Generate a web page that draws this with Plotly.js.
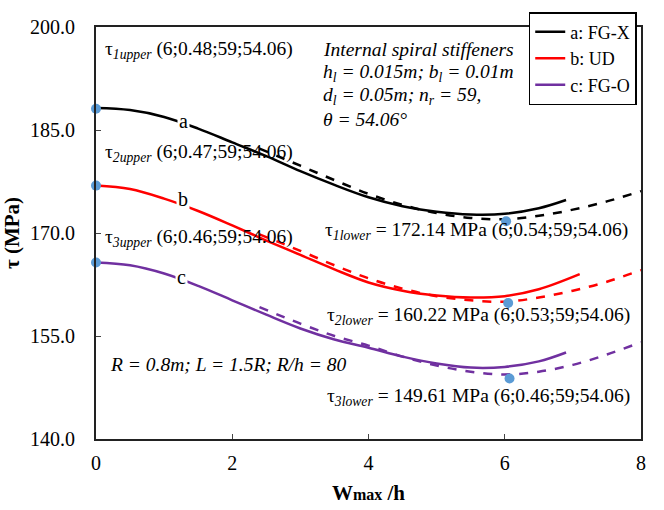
<!DOCTYPE html>
<html>
<head>
<meta charset="utf-8">
<script src="https://cdn.plot.ly/plotly-3.0.1.min.js"></script>
<style>html,body{margin:0;padding:0;background:#fff;}#chart{width:664px;height:510px;}</style>
</head>
<body>
<div id="chart"></div>
<script>
// Solid curves
const xA = [0, 0.5, 1.0, 1.5, 2.0, 2.5, 3.0, 3.5, 4.0, 4.5, 5.0, 5.5, 6.0, 6.5, 6.9];
const yA = [188.2, 187.9, 186.9, 185.2, 183.2, 181.2, 179.0, 177.0, 175.2, 173.9, 173.1, 172.7, 172.8, 173.6, 174.8];
const xB = [0, 0.5, 1.0, 1.5, 2.0, 2.5, 3.0, 3.5, 4.0, 4.5, 5.0, 5.5, 6.0, 6.5, 7.1];
const yB = [176.9, 176.4, 175.0, 173.2, 171.1, 168.9, 166.8, 164.7, 162.8, 161.6, 160.9, 160.6, 160.8, 161.8, 164.0];
const xC = [0, 0.5, 1.0, 1.5, 2.0, 2.5, 3.0, 3.5, 4.0, 4.5, 5.0, 5.5, 6.0, 6.5, 6.9];
const yC = [165.7, 165.3, 164.1, 162.3, 160.2, 158.1, 156.1, 154.5, 153.3, 152.0, 151.0, 150.4, 150.5, 151.3, 152.6];
// Dashed curves
const xD = [2.4, 3.0, 3.5, 4.0, 4.5, 5.0, 5.5, 6.0, 6.5, 7.0, 7.5, 8.0];
const yAd = [182.3, 179.8, 177.7, 175.7, 174.1, 172.9, 172.2, 172.0, 172.5, 173.4, 174.6, 176.1];
const yBd = [169.8, 167.4, 165.3, 163.4, 161.9, 160.8, 160.2, 160.0, 160.6, 161.6, 162.9, 164.6];
const yCd = [159.2, 156.8, 155.0, 153.6, 152.0, 150.7, 149.8, 149.4, 149.8, 150.8, 152.3, 154.1];
// Marked points
const ptX = [0, 0, 0, 6.02, 6.05, 6.07];
const ptY = [188.1, 176.9, 165.7, 171.7, 159.8, 148.8];
// Legend names and colours
const names = ["a: FG-X", "b: UD", "c: FG-O"];
const colors = ["#000000", "#ff0000", "#7030a0"];
const xTicks = [0, 2, 4, 6, 8];
const yTicks = [140, 155, 170, 185, 200];
const yTickText = ["140.0", "155.0", "170.0", "185.0", "200.0"];

const font = "'Liberation Serif', 'Times New Roman', serif";
const solidX = [xA, xB, xC], solidY = [yA, yB, yC], dashY = [yAd, yBd, yCd];
const traces = [];
for (let i = 0; i < 3; i++) {
  traces.push({x: solidX[i], y: solidY[i], mode: "lines", name: names[i],
    line: {color: colors[i], width: 2.5, shape: "spline"}});
}
for (let i = 0; i < 3; i++) {
  traces.push({x: xD, y: dashY[i], mode: "lines", showlegend: false,
    line: {color: colors[i], width: 2.5, dash: "dash", shape: "spline"}});
}
traces.push({x: ptX, y: ptY, mode: "markers", showlegend: false, cliponaxis: false,
  marker: {color: "#5b9bd5", size: 10}});

const ann = [];
function add(x, y, text, opts) {
  ann.push(Object.assign({x: x, y: y, text: text, showarrow: false, xanchor: "left",
    font: {family: font, size: 19.5, color: "#000"}}, opts || {}));
}
add(0.1, 196.7, "τ<sub><i>1upper</i></sub> (6;0.48;59;54.06)");
add(0.1, 181.6, "τ<sub><i>2upper</i></sub> (6;0.47;59;54.06)");
add(0.1, 169.3, "τ<sub><i>3upper</i></sub> (6;0.46;59;54.06)");
add(3.33, 170.3, "τ<sub><i>1lower</i></sub> = 172.14 MPa (6;0.54;59;54.06)");
add(3.36, 157.9, "τ<sub><i>2lower</i></sub> = 160.22 MPa (6;0.53;59;54.06)");
add(3.36, 146.1, "τ<sub><i>3lower</i></sub> = 149.61 MPa (6;0.46;59;54.06)");
const it = {font: {family: font, size: 19.5, color: "#000"}};
add(3.31, 196.7, "<i>Internal spiral stiffeners</i>", it);
add(3.31, 193.3, "<i>h<sub>l</sub> = 0.015m; b<sub>l</sub> = 0.01m</i>", it);
add(3.31, 189.9, "<i>d<sub>l</sub> = 0.05m; n<sub>r</sub> = 59,</i>", it);
add(3.31, 186.5, "<i>θ = 54.06°</i>", it);
add(0.17, 150.9, "<i>R = 0.8m; L = 1.5R; R/h = 80</i>", it);
const lbl = {xanchor: "center", yanchor: "middle", bgcolor: "#ffffff", borderpad: 1, font: {family: font, size: 20, color: "#000"}};
add(1.28, 186.3, "a", lbl);
add(1.28, 174.9, "b", lbl);
add(1.26, 163.6, "c", lbl);

const layout = {
  width: 664, height: 510,
  margin: {l: 96, r: 23, t: 17, b: 71},
  paper_bgcolor: "#fff", plot_bgcolor: "#fff",
  font: {family: font, size: 19, color: "#000"},
  showlegend: true,
  legend: {x: 0.794, y: 1.036, xanchor: "left", yanchor: "top",
    bgcolor: "#fff", bordercolor: "#000", borderwidth: 1.5,
    font: {family: font, size: 18}, tracegroupgap: 0, itemwidth: 30},
  xaxis: {range: [0, 8], tickvals: xTicks, ticks: "inside", ticklen: 5,
    showgrid: false, zeroline: false, showline: true, mirror: true,
    linecolor: "#222", linewidth: 2, tickfont: {size: 20}, ticklabelstandoff: 5,
    title: {text: "<b>W<span style='font-size:16px'>max</span> /h</b>", font: {size: 21}, standoff: 12}},
  yaxis: {range: [140, 200], tickvals: yTicks, ticktext: yTickText, ticks: "inside", ticklen: 5,
    showgrid: false, zeroline: false, showline: true, mirror: true,
    linecolor: "#222", linewidth: 2, tickfont: {size: 20}, ticklabelstandoff: 15,
    title: {text: "<b>τ (MPa)</b>", font: {size: 21}, standoff: 6}},
  annotations: ann
};
Plotly.newPlot("chart", traces, layout, {displayModeBar: false});
</script>
</body>
</html>
